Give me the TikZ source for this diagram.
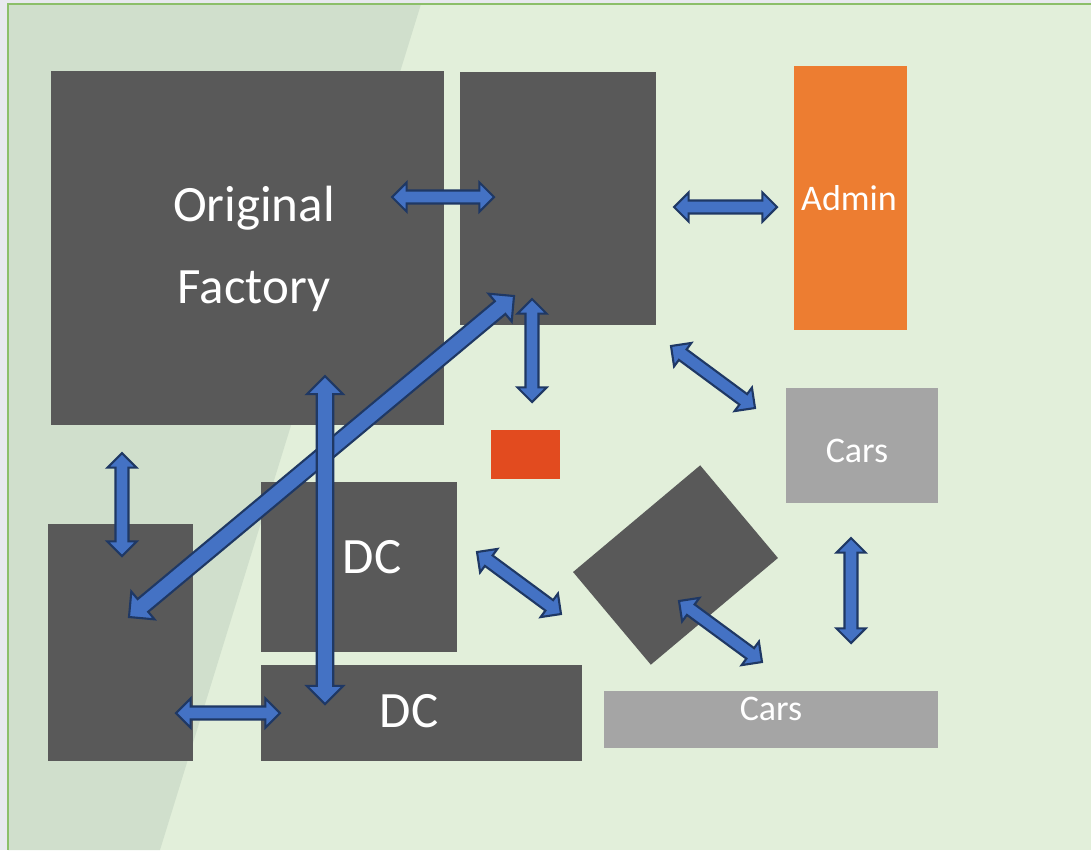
\documentclass[tikz,border=0pt]{standalone}
\usepackage{fontspec}
\setmainfont{Carlito}
\usepackage{xcolor}
\usetikzlibrary{calc,fit}

\definecolor{pagegrey}{HTML}{E8E9EE}
\definecolor{bggreen}{HTML}{E2EFDA}
\definecolor{bgshade}{HTML}{D0DFCC}
\definecolor{edgegreen}{HTML}{8CBF69}
\definecolor{boxgrey}{HTML}{595959}
\definecolor{carsgrey}{HTML}{A5A5A5}
\definecolor{adminorange}{HTML}{ED7D31}
\definecolor{spotred}{HTML}{E24B1F}
\definecolor{arrblue}{HTML}{4472C4}
\definecolor{arrnavy}{HTML}{1F3864}

% block arrow with two heads: from, to, half shaft, half head, head length
\newcommand{\dblarr}[5]{%
  \path[arr] let \p1=($(#2)-(#1)$), \n1={atan2(\y1,\x1)} in
    (#1) -- ($(#1)+(\n1:#5)+(\n1+90:#4)$) -- ($(#1)+(\n1:#5)+(\n1+90:#3)$)
    -- ($(#2)+(\n1:-#5)+(\n1+90:#3)$) -- ($(#2)+(\n1:-#5)+(\n1+90:#4)$)
    -- (#2) -- ($(#2)+(\n1:-#5)+(\n1-90:#4)$) -- ($(#2)+(\n1:-#5)+(\n1-90:#3)$)
    -- ($(#1)+(\n1:#5)+(\n1-90:#3)$) -- ($(#1)+(\n1:#5)+(\n1-90:#4)$) -- cycle;}

\begin{document}
\begin{tikzpicture}[
  x=0.02cm, y=-0.02cm,
  blk/.style={fill=boxgrey, inner sep=0pt, outer sep=0pt},
  lbl/.style={text=white, font=\fontsize{20.5}{24}\selectfont},
  biglbl/.style={text=white, font=\fontsize{29}{46.7}\selectfont, align=center},
  arr/.style={fill=arrblue, draw=arrnavy, line width=1.2pt, line join=miter},
]
\useasboundingbox (0,0) rectangle (1091,850);

% Site ground
\fill[pagegrey] (0,0) rectangle (1091,850);
\fill[bggreen] (8,4) rectangle (1091,850);
\fill[bgshade] (8,4) -- (421,4) -- (160,850) -- (8,850) -- cycle;
\draw[edgegreen, line width=1.2pt] (1091,4) -- (8,4) -- (8,850);

% Buildings
\node[blk, fit={(51,71) (444,425)}] (factory) {};
\node[blk, fit={(460,72) (656,325)}] (hall) {};
\node[blk, fill=adminorange, fit={(794,66) (907,330)}] (admin) {};
\node[blk, fill=carsgrey, fit={(786,388) (938,503)}] (carsA) {};
\node[blk, fill=spotred, fit={(491,430) (560,479)}] (spot) {};
\node[blk, fit={(48,524) (193,761)}] (store) {};
\node[blk, fit={(261,482) (457,652)}] (dcA) {};
\node[blk, fit={(261,665) (582,761)}] (dcB) {};
\node[blk, fill=carsgrey, fit={(604,691) (938,748)}] (carsB) {};
\node[blk, minimum width=3.32cm, minimum height=2.42cm, rotate=40]
  (turned) at (675.5,565) {};

% Labels
\node[biglbl] (factorytxt) at (254,249) {Original\\Factory};
\node[biglbl] (dcAtxt) at (372,557) {DC};
\node[biglbl] (dcBtxt) at (409,711) {DC};
\node[lbl] (admintxt) at (849,198) {Admin};
\node[lbl] (carsAtxt) at (857,451) {Cars};
\node[lbl] (carsBtxt) at (771,709) {Cars};

% Arrow ends
\coordinate (fh1) at (392,197); \coordinate (fh2) at (494,197);
\coordinate (ha1) at (674,207); \coordinate (ha2) at (777,207);
\coordinate (sh1) at (129,617); \coordinate (sh2) at (514,296);
\coordinate (hs1) at (532,299); \coordinate (hs2) at (532,402);
\coordinate (fd1) at (325,376); \coordinate (fd2) at (325,704);
\coordinate (fs1) at (122,453); \coordinate (fs2) at (122,556);
\coordinate (sd1) at (176,713); \coordinate (sd2) at (280,713);
\coordinate (hc1) at (671,346); \coordinate (hc2) at (755,408);
\coordinate (dt1) at (477,552); \coordinate (dt2) at (561,614);
\coordinate (tc1) at (679,601); \coordinate (tc2) at (762,662);
\coordinate (cc1) at (851,538); \coordinate (cc2) at (851,643);

% Flows
\dblarr{fh1}{fh2}{3.7pt}{8.3pt}{8.3pt}
\dblarr{ha1}{ha2}{3.7pt}{8.3pt}{8.3pt}
\dblarr{sh1}{sh2}{4.7pt}{10.3pt}{10.3pt}
\dblarr{hs1}{hs2}{3.7pt}{8.3pt}{8.3pt}
\dblarr{fd1}{fd2}{4.7pt}{10.3pt}{10.3pt}
\dblarr{fs1}{fs2}{3.7pt}{8.3pt}{8.3pt}
\dblarr{sd1}{sd2}{3.7pt}{8.3pt}{8.3pt}
\dblarr{hc1}{hc2}{3.7pt}{8.3pt}{8.3pt}
\dblarr{dt1}{dt2}{3.7pt}{8.3pt}{8.3pt}
\dblarr{tc1}{tc2}{3.7pt}{8.3pt}{8.3pt}
\dblarr{cc1}{cc2}{3.7pt}{8.3pt}{8.3pt}
\end{tikzpicture}
\end{document}
